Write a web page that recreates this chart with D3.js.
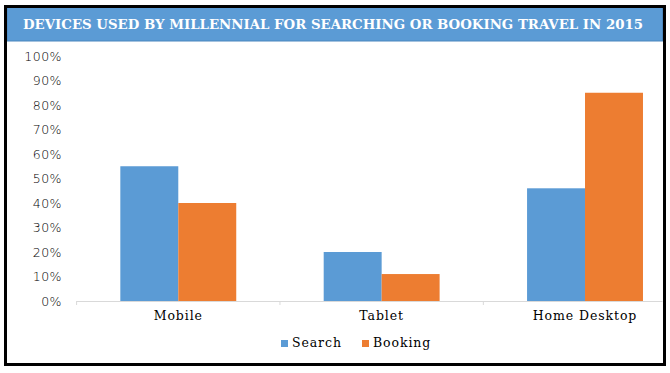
<!DOCTYPE html>
<html>
<head>
<meta charset="utf-8">
<script src="https://cdn.jsdelivr.net/npm/d3@7"></script>
<style>
  html, body { margin: 0; padding: 0; background: #fff; }
  #chart { width: 670px; height: 373px; }
</style>
</head>
<body>
<div id="chart"></div>
<script>
// Datos
const categories = ['Mobile', 'Tablet', 'Home Desktop'];
const series = ['Search', 'Booking'];
const searchValues = [55, 20, 46];
const bookingValues = [40, 11, 85];
const yTicks = [0, 10, 20, 30, 40, 50, 60, 70, 80, 90, 100];
const title = 'DEVICES USED BY MILLENNIAL FOR SEARCHING OR BOOKING TRAVEL IN 2015';

// Colores fijos
const COLOR_SEARCH = '#5b9bd5',
      COLOR_BOOKING = '#ed7d31';

let data = categories.map(function(c, i) {
    return { cat: c, Search: searchValues[i], Booking: bookingValues[i] };
});

let width = 670, height = 373;

let svg = d3.select('#chart')
    .append('svg')
    .attr('width', width)
    .attr('height', height);

// Recorte del área interior del marco
svg.append('clipPath').attr('id', 'inner')
    .append('rect').attr('x', 7).attr('y', 7).attr('width', 655.5).attr('height', 357);

// Escalas
let x = d3.scaleBand()
    .domain(categories)
    .range([76.6, 686.7])
    .paddingInner(0.43)
    .paddingOuter(0.215);

let xSub = d3.scaleBand()
    .domain(series)
    .range([0, x.bandwidth()]);

let y = d3.scaleLinear()
    .domain([0, 100])
    .range([301, 56]);

let color = d3.scaleOrdinal()
    .domain(series)
    .range([COLOR_SEARCH, COLOR_BOOKING]);

let plot = svg.append('g').attr('clip-path', 'url(#inner)');

// Eje X
let step = x.step();
let xAxis = function(g) {
    g.call(d3.axisBottom(x).tickSize(0).tickPadding(10));
    g.select('.domain').attr('stroke', '#d9d9d9').attr('d', 'M76.6,0.5H686.7');
    g.selectAll('.tick text')
        .attr('font-family', 'DejaVu Serif')
        .attr('font-size', 12.5)
        .attr('fill', '#000')
        .attr('letter-spacing', 0.9);
};
plot.append('g')
    .attr('transform', 'translate(0,301)')
    .call(xAxis);

// Separadores entre categorías
plot.append('g')
    .selectAll('line')
    .data(d3.range(categories.length + 1))
    .enter()
    .append('line')
    .attr('x1', function(i) { return 76.6 + i * step; })
    .attr('x2', function(i) { return 76.6 + i * step; })
    .attr('y1', 301)
    .attr('y2', 305)
    .attr('stroke', '#d9d9d9');

// Eje Y
let yAxis = function(g) {
    g.call(d3.axisLeft(y).tickValues(yTicks).tickSize(0).tickPadding(0)
        .tickFormat(function(d) { return d + '%'; }));
    g.select('.domain').remove();
    g.selectAll('.tick text')
        .attr('font-family', 'DejaVu Sans')
        .attr('font-weight', 300)
        .attr('font-size', 12.5)
        .attr('fill', '#000')
        .attr('letter-spacing', 0.5);
};
svg.append('g')
    .attr('transform', 'translate(62,0)')
    .call(yAxis);

// Barras
plot.append('g')
    .selectAll('g')
    .data(data)
    .enter()
    .append('g')
    .attr('transform', function(d) { return 'translate(' + x(d.cat) + ',0)'; })
    .selectAll('rect')
    .data(function(d) { return series.map(function(k) { return { key: k, value: d[k] }; }); })
    .enter()
    .append('rect')
    .attr('x', function(d) { return xSub(d.key); })
    .attr('width', xSub.bandwidth())
    .attr('y', function(d) { return y(d.value); })
    .attr('height', function(d) { return y(0) - y(d.value); })
    .attr('fill', function(d) { return color(d.key); });

// Leyenda
let legendX = [281, 362];
let legend = svg.append('g')
    .selectAll('g')
    .data(series)
    .enter()
    .append('g')
    .attr('transform', function(d, i) { return 'translate(' + legendX[i] + ',343)'; });
legend.append('rect')
    .attr('x', 0).attr('y', -3).attr('width', 7).attr('height', 7)
    .attr('fill', function(d) { return color(d); });
legend.append('text')
    .attr('x', 11)
    .attr('dy', '0.35em')
    .attr('font-family', 'DejaVu Serif')
    .attr('font-size', 12.5)
    .attr('letter-spacing', 0.9)
    .text(function(d) { return d; });

// Título
svg.append('rect')
    .attr('x', 7).attr('y', 7.5)
    .attr('width', 655.5).attr('height', 33.5)
    .attr('fill', '#5b9bd5')
    .attr('stroke', '#4a86bd')
    .attr('stroke-width', 1);
svg.append('text')
    .attr('x', 333)
    .attr('y', 29)
    .attr('text-anchor', 'middle')
    .attr('font-family', 'DejaVu Serif')
    .attr('font-weight', 'bold')
    .attr('font-size', 13.5)
    .attr('fill', '#fff')
    .attr('textLength', 620)
    .attr('lengthAdjust', 'spacingAndGlyphs')
    .text(title);

// Marco
svg.append('rect')
    .attr('x', 5.5).attr('y', 6.5)
    .attr('width', 659).attr('height', 358)
    .attr('fill', 'none')
    .attr('stroke', '#000')
    .attr('stroke-width', 3);
</script>
</body>
</html>
